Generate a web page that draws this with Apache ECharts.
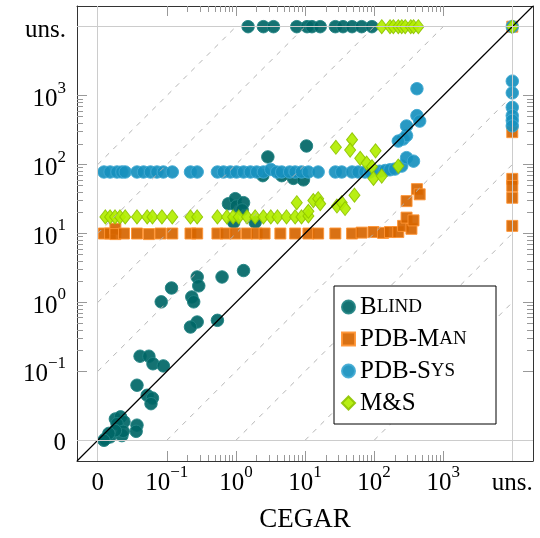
<!DOCTYPE html>
<html>
<head>
<meta charset="utf-8">
<script src="https://cdn.jsdelivr.net/npm/echarts@6/dist/echarts.min.js"></script>
<style>
  html, body { margin: 0; padding: 0; background: #fff; }
  #chart { width: 540px; height: 538px; }
</style>
</head>
<body>
<div id="chart"></div>
<script>
// times in seconds, UNS = unsolved (timeout)
const UNS = 'uns';

// axis positions: 0 -> "0" (<= 0.01 s), 1..5 -> 10^-1..10^3, 6 -> "uns."
const tickPos = [0, 1, 2, 3, 4, 5, 6];
const tickBase = ['0', '10', '10', '10', '10', '10', 'uns.'];
const tickExp = ['', '\u22121', '0', '1', '2', '3', ''];
const guideOffsets = [-4, -3, -2, -1, 1, 2, 3, 4];

// [CEGAR time, other tool time]
const blind = [
  [1.5, UNS], [2.5, UNS], [3.5, UNS], [7.6, UNS], [10.7, UNS], [12.6, UNS], [16.6, UNS],
  [27.5, UNS], [35.5, UNS], [48, UNS], [66, UNS], [93, UNS],
  [2.9, 129], [10.5, 186], [2.45, 69], [4.6, 69], [6.8, 63], [9.5, 60],
  [0.78, 27], [0.98, 32], [1.02, 25], [1.29, 28], [1.23, 22], [1.9, 14.5], [0.93, 14.5],
  [0.275, 2.34], [0.29, 1.74], [0.23, 1.2], [0.245, 1.02], [0.275, 0.52], [0.22, 0.44],
  [0.54, 0.55], [0.63, 2.34], [1.29, 2.9], [0.117, 1.62], [0.083, 1.02],
  [0.041, 0.166], [0.055, 0.166], [0.063, 0.129], [0.089, 0.12],
  [0.037, 0.063], [0.052, 0.045], [0.062, 0.041], [0.059, 0.034],
  [0.018, 0.0204], [0.0214, 0.0219], [0.024, 0.0186], [0.019, 0.0174], [0.037, 0.0166], [0.036, 0.0135],
  [0.0129, 0.0105], [0.0151, 0.0112], [0.0224, 0.0117], [0.0234, 0.0135], [0.018, 0.0138],
  [0.0145, 0.0126], [0.0123, 0.01]
];

const pdbMan = [
  [0.0123, 10], [0.0151, 10], [0.018, 11.7], [0.018, 9.8], [0.024, 10], [0.037, 10], [0.055, 9.8],
  [0.081, 10], [0.12, 10], [0.22, 10], [0.275, 10], [0.54, 10], [0.71, 10], [0.98, 10], [1.45, 10],
  [2.0, 10], [2.6, 10], [4.4, 10], [7.2, 10], [11.2, 10], [15.5, 10], [27.5, 10], [48, 10],
  [66, 10.3], [98, 10.5], [135, 10.2], [170, 10.5],
  [224, 10.5], [263, 12.9], [347, 11.7], [295, 17], [372, 15.5], [295, 29.5], [417, 44], [457, 37],
  [UNS, 295], [UNS, 62], [UNS, 49], [UNS, 33], [UNS, 12.9], [UNS, UNS]
];

const pdbSys = [
  [0.0123, 78], [0.0151, 78], [0.019, 78], [0.0224, 78], [0.025, 78], [0.037, 78], [0.046, 78],
  [0.058, 78], [0.072, 78], [0.089, 78], [0.12, 78], [0.22, 78], [0.275, 78], [0.54, 78],
  [0.66, 78], [0.83, 78], [1.02, 78], [1.29, 78], [1.62, 78], [2.0, 78], [2.5, 78], [3.2, 85],
  [3.9, 78], [4.6, 78], [6.0, 78], [7.2, 78], [8.9, 78], [11.2, 78], [15.5, 78], [27.5, 78],
  [34, 78], [48, 78], [59, 78], [74, 78], [87, 78], [120, 80], [145, 82], [170, 84], [200, 86],
  [251, 95], [295, 126], [372, 112], [263, 234], [295, 263], [224, 219], [295, 363],
  [417, 513], [457, 427], [417, 1259],
  [UNS, 1622], [UNS, 1096], [UNS, 676], [UNS, 513], [UNS, 437], [UNS, 363], [UNS, UNS]
];

const mAndS = [
  [0.0129, 17.4], [0.0151, 17.4], [0.0178, 17.4], [0.021, 17.4], [0.025, 17.4], [0.037, 17.4],
  [0.052, 17.4], [0.062, 17.4], [0.085, 17.4], [0.12, 17.4], [0.22, 17.4], [0.275, 17.4],
  [0.54, 17.4], [0.74, 17.4], [0.91, 17.4], [1.1, 17.4], [1.45, 17.4], [1.9, 17.4], [2.5, 17.4],
  [3.2, 17.4], [4.0, 17.4], [5.4, 17.4], [7.2, 17.4], [8.9, 17.4], [11.2, 18],
  [7.6, 28], [11.2, 21], [13.2, 30], [15.5, 32], [16.6, 27], [29, 25], [34, 28], [38, 23], [52, 36],
  [28, 178], [48, 229], [45, 162], [63, 123], [78, 105], [93, 93], [105, 158], [98, 63], [129, 68],
  [224, 95],
  [129, UNS], [170, UNS], [190, UNS], [224, UNS], [251, UNS], [282, UNS], [339, UNS], [372, UNS],
  [437, UNS], [UNS, UNS]
];

const AX_MIN = -0.3, AX_MAX = 6.3;
const FONT = 'Liberation Serif';

function toAxis(t) {
  if (t === UNS) return 6;
  return Math.log10(Math.max(t, 0.01)) + 2;
}
function toPoints(arr) {
  return arr.map(function (p) { return [toAxis(p[0]), toAxis(p[1])]; });
}

// log-style minor ticks between 10^-1 and 10^3
let minorTicks = [];
for (let d = 1; d < 5; d++) {
  for (let k = 2; k <= 9; k++) minorTicks.push(d + Math.log10(k));
}

function tickLabel(v) {
  let i = Math.round(v);
  if (tickExp[i]) return '{b|' + tickBase[i] + '}{s|' + tickExp[i] + '}';
  return '{b|' + tickBase[i] + '}';
}

const labelRich = {
  b: { fontFamily: FONT, fontSize: 25, color: '#000', lineHeight: 32, verticalAlign: 'bottom' },
  s: { fontFamily: FONT, fontSize: 17, color: '#000', lineHeight: 17, verticalAlign: 'top' }
};

function makeAxis(pos, kind, withLabels) {
  let ax = {
    type: 'value', min: AX_MIN, max: AX_MAX, position: pos,
    axisLine: { show: kind === 'major', onZero: false, lineStyle: { color: '#333', width: 1 } },
    axisTick: {
      show: true, inside: true, length: kind === 'major' ? 10 : 6,
      customValues: kind === 'major' ? tickPos : minorTicks,
      lineStyle: { color: '#999', width: 1 }
    },
    axisLabel: { show: false },
    splitLine: { show: false }
  };
  if (withLabels) {
    ax.axisLabel = {
      show: true, customValues: tickPos, formatter: tickLabel, rich: labelRich,
      margin: (pos === 'bottom') ? 3 : 11
    };
  }
  return ax;
}

let xAxes = [makeAxis('bottom', 'major', true), makeAxis('bottom', 'minor'),
             makeAxis('top', 'major'), makeAxis('top', 'minor')];
xAxes[0].name = 'CEGAR';
xAxes[0].nameLocation = 'middle';
xAxes[0].nameGap = 45;
xAxes[0].nameTextStyle = { fontFamily: FONT, fontSize: 27, color: '#000' };
let yAxes = [makeAxis('left', 'major', true), makeAxis('left', 'minor'),
             makeAxis('right', 'major'), makeAxis('right', 'minor')];

let series = [];
// grid lines at "0" and "uns."
series.push({
  type: 'line', data: [], silent: true,
  markLine: {
    silent: true, symbol: 'none', label: { show: false },
    lineStyle: { color: '#cccccc', width: 1, type: 'solid' },
    data: [{ xAxis: 0 }, { xAxis: 6 }, { yAxis: 0 }, { yAxis: 6 }]
  }
});
guideOffsets.forEach(function (k) {
  let seg = k > 0 ? [[0, k], [6 - k, 6]] : [[-k, 0], [6, 6 + k]];
  series.push({
    type: 'line', data: seg, symbol: 'none', silent: true,
    lineStyle: { color: '#b5b5b5', width: 1, type: [5, 6] }
  });
});
series.push({
  type: 'line', data: [[AX_MIN, AX_MIN], [AX_MAX, AX_MAX]], symbol: 'none', silent: true,
  lineStyle: { color: '#000', width: 1.2 }
});

const tools = [
  { name: 'Blind', data: blind, symbol: 'circle', size: 12.5, color: '#006666', border: '#228383' },
  { name: 'PDB-Man', data: pdbMan, symbol: 'rect', size: 11, color: '#d66500', border: '#ff9433' },
  { name: 'PDB-Sys', data: pdbSys, symbol: 'circle', size: 12.5, color: '#1790be', border: '#40a9d3' },
  { name: 'M&S', data: mAndS, symbol: 'diamond', size: [11, 14], color: '#b2ee00', border: '#8fc400' }
];
tools.forEach(function (t) {
  series.push({
    name: t.name, type: 'scatter', data: toPoints(t.data),
    symbol: t.symbol, symbolSize: t.size,
    itemStyle: { color: t.color, borderColor: t.border, borderWidth: 1, opacity: 0.92 }
  });
});

const legendText = {
  'Blind': '{c|B}{s|LIND}',
  'PDB-Man': '{c|PDB-M}{s|AN}',
  'PDB-Sys': '{c|PDB-S}{s|YS}',
  'M&S': '{c|M&S}'
};

let chart = echarts.init(document.getElementById('chart'));
chart.setOption({
  animation: false,
  backgroundColor: '#fff',
  grid: { left: 77, top: 6, width: 456, height: 457, containLabel: false },
  xAxis: xAxes,
  yAxis: yAxes,
  legend: {
    data: tools.map(function (t) { return t.name; }),
    orient: 'vertical', left: 334, top: 286,
    padding: [8, 15, 8, 7], itemGap: 6, itemWidth: 13, itemHeight: 13,
    backgroundColor: '#fff', borderColor: '#000', borderWidth: 1, borderRadius: 0,
    formatter: function (n) { return legendText[n]; },
    textStyle: {
      fontFamily: FONT, fontSize: 25, color: '#000', lineHeight: 26, width: 121,
      rich: {
        c: { fontFamily: FONT, fontSize: 25, color: '#000', lineHeight: 26 },
        s: { fontFamily: FONT, fontSize: 19, color: '#000', lineHeight: 26 }
      }
    }
  },
  series: series
});
</script>
</body>
</html>
